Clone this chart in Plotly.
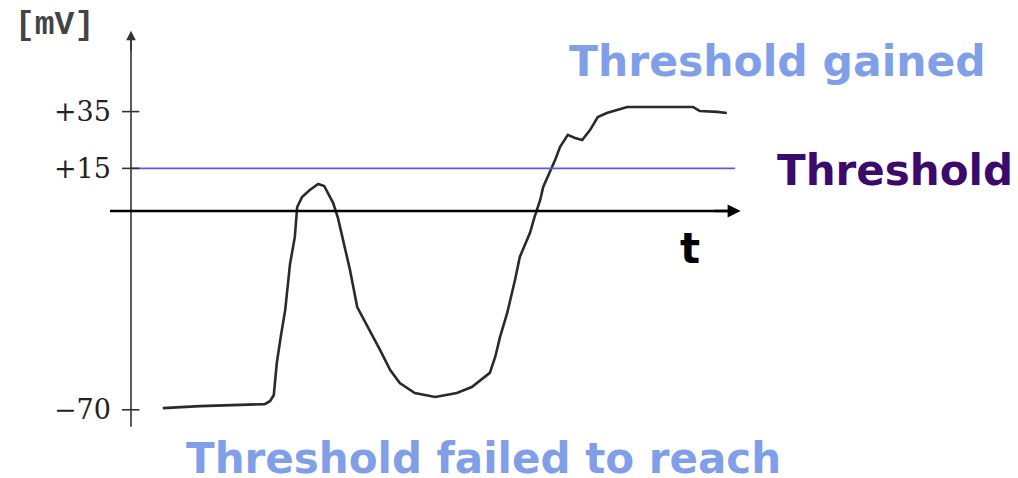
import plotly.graph_objects as go

# Membrane potential trace (time in arbitrary units, potential in mV)
time_t = [5.3, 11.5, 22.3, 23.2, 23.8, 24.3, 25.0, 25.7, 26.5, 27.3, 27.7, 28.5, 29.8,
          31.2, 32.2, 33.7, 34.5, 35.7, 36.5, 37.7, 39.8, 41.5, 43.2, 44.8, 47.3, 50.7,
          54.3, 56.8, 59.8, 60.7, 61.5, 62.7, 64.0, 64.8, 66.5, 67.2, 68.2, 68.7, 70.7,
          71.5, 72.8, 74.0, 75.2, 76.5, 77.8, 79.3, 81.0, 82.7, 93.7, 94.8, 97.7, 99.3]
potential_mv = [-69.4, -68.7, -68.0, -66.9, -64.8, -53.5, -43.7, -34.9, -18.7, -9.2, 1.4,
                4.9, 7.4, 9.5, 8.8, 2.8, -2.5, -13.7, -20.8, -33.8, -41.9, -48.9, -56.0,
                -60.6, -64.1, -65.5, -64.1, -62.0, -57.0, -51.4, -44.4, -35.9, -24.3,
                -16.2, -7.7, -2.5, 3.9, 8.5, 18.0, 22.5, 26.8, 25.7, 25.0, 28.5, 33.1,
                34.5, 35.6, 36.6, 36.6, 35.2, 34.9, 34.5]

tick_values = [35, 15, -70]
tick_labels = ["+35", "+15", "\u221270"]
threshold_mv = 15
y_unit = "[mV]"
x_label = "t"
label_gained = "Threshold gained"
label_threshold = "Threshold"
label_failed = "Threshold failed to reach"

X_RANGE = [-131 / 6, (1018 - 131) / 6]
Y_RANGE = [(211 - 478) / 2.84, 211 / 2.84]

fig = go.Figure()

fig.add_trace(go.Scatter(x=time_t, y=potential_mv, mode="lines",
                         line=dict(color="#2a2a2a", width=2.6), hoverinfo="skip"))

shapes = []
# vertical axis
shapes.append(dict(type="line", xref="x", yref="y", x0=0, x1=0, y0=-76, y1=62,
                   line=dict(color="#333333", width=1.6)))
# horizontal time axis
shapes.append(dict(type="line", xref="x", yref="y", x0=-3.5, x1=100, y0=0, y1=0,
                   line=dict(color="#000000", width=2.6)))
# threshold line
shapes.append(dict(type="line", xref="x", yref="y", x0=0, x1=100.7, y0=threshold_mv,
                   y1=threshold_mv, line=dict(color="#5a5af0", width=1.6)))
# tick marks
for v in tick_values:
    shapes.append(dict(type="line", xref="x", yref="y", x0=-1.5, x1=1.4, y0=v, y1=v,
                       line=dict(color="#333333", width=1.6)))

annotations = []
for v, lab in zip(tick_values, tick_labels):
    annotations.append(dict(x=-3.0, y=v, xref="x", yref="y", text=lab, showarrow=False,
                            xanchor="right", yanchor="middle",
                            font=dict(family="DejaVu Serif", size=27, color="#222222")))
# arrows
annotations.append(dict(x=0, y=63.5, ax=0, ay=56, xref="x", yref="y", axref="x", ayref="y",
                        text="", showarrow=True, arrowhead=2, arrowsize=1.2, arrowwidth=1.6,
                        arrowcolor="#333333"))
annotations.append(dict(x=101.6, y=0, ax=97, ay=0, xref="x", yref="y", axref="x", ayref="y",
                        text="", showarrow=True, arrowhead=2, arrowsize=1.0, arrowwidth=2.6,
                        arrowcolor="#000000"))
annotations.append(dict(x=13, y=25, xref="paper", yref="paper", text="<b>%s</b>" % y_unit,
                        showarrow=False, xanchor="left", yanchor="middle",
                        font=dict(family="Liberation Mono", size=33, color="#444444")))
annotations.append(dict(x=690, y=248, xref="paper", yref="paper", text="<b>%s</b>" % x_label,
                        showarrow=False, xanchor="center", yanchor="middle",
                        font=dict(family="DejaVu Sans", size=42, color="#000000")))
annotations.append(dict(x=777, y=62, xref="paper", yref="paper", text="<b>%s</b>" % label_gained,
                        showarrow=False, xanchor="center", yanchor="middle",
                        font=dict(family="DejaVu Sans", size=42.5, color="#809fe8")))
annotations.append(dict(x=895, y=170, xref="paper", yref="paper", text="<b>%s</b>" % label_threshold,
                        showarrow=False, xanchor="center", yanchor="middle",
                        font=dict(family="DejaVu Sans", size=42, color="#3b0a6b")))
annotations.append(dict(x=483, y=458, xref="paper", yref="paper", text="<b>%s</b>" % label_failed,
                        showarrow=False, xanchor="center", yanchor="middle",
                        font=dict(family="DejaVu Sans", size=42, color="#809fe8")))

# convert pixel-positioned paper annotations to paper fractions
for a in annotations:
    if a.get("xref") == "paper":
        a["x"] = a["x"] / 1018
        a["y"] = 1 - a["y"] / 478

fig.update_layout(
    width=1018, height=478,
    margin=dict(l=0, r=0, t=0, b=0),
    paper_bgcolor="white", plot_bgcolor="white",
    showlegend=False,
    xaxis=dict(range=X_RANGE, visible=False, fixedrange=True),
    yaxis=dict(range=Y_RANGE, visible=False, fixedrange=True),
    shapes=shapes, annotations=annotations,
)

fig.write_html("out.html", config={"displayModeBar": False},
               post_script="document.body.style.margin='0';document.body.style.overflow='hidden';")
